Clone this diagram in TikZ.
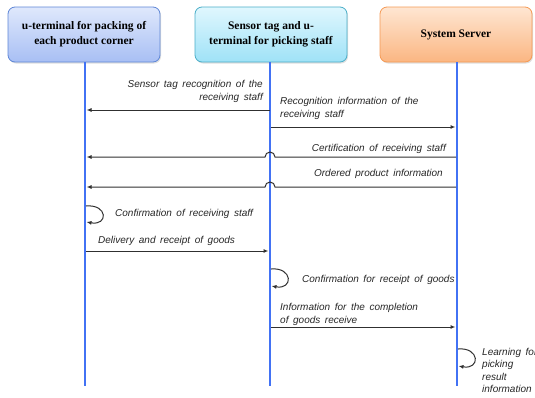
\documentclass[tikz,border=0pt]{standalone}
\usepackage{fontspec}
\setmainfont{Liberation Serif}
\setsansfont{Liberation Sans}
\usetikzlibrary{arrows.meta,shadows}

\definecolor{lifeblue}{HTML}{4272F4}
\definecolor{msggray}{HTML}{303030}
\definecolor{boxAtop}{HTML}{DFE8FC}
\definecolor{boxAbot}{HTML}{A8BFF4}
\definecolor{boxAline}{HTML}{5E86D6}
\definecolor{boxBtop}{HTML}{E0F7FE}
\definecolor{boxBbot}{HTML}{9FE2F7}
\definecolor{boxBline}{HTML}{4AAEC8}
\definecolor{boxCtop}{HTML}{FEE6D2}
\definecolor{boxCbot}{HTML}{FBB682}
\definecolor{boxCline}{HTML}{F59A55}

% italic label font with wide word spacing
\newcommand{\msglabelfont}{\fontsize{10}{12.5}\selectfont\sffamily\itshape
  \setlength{\spaceskip}{4.6pt plus 1pt}}

\tikzset{
  header/.style={rounded corners=7pt, minimum width=152pt, minimum height=55pt,
    align=center, font=\fontsize{11.5}{15}\selectfont\bfseries, line width=0.8pt,
    drop shadow={shadow xshift=1pt, shadow yshift=-1.5pt, opacity=0.25}},
  lifeline/.style={draw=lifeblue, line width=2.4pt},
  msg/.style={draw=msggray, line width=1pt, -{Latex[length=5pt,width=4pt]}},
  lbl/.style={font=\msglabelfont, inner sep=0pt, text=black!85}
}

\begin{document}
\begin{tikzpicture}[x=1pt, y=-1pt]
  \useasboundingbox (0,0) rectangle (535,397);

  % participants
  \node[header, draw=boxAline, top color=boxAtop, bottom color=boxAbot] (h1) at (84,34.5)
    {u-terminal for packing of\\each product corner};
  \node[header, draw=boxBline, top color=boxBtop, bottom color=boxBbot] (h2) at (271,34.5)
    {Sensor tag and u-\\terminal for picking staff};
  \node[header, draw=boxCline, top color=boxCtop, bottom color=boxCbot] (h3) at (456,34.5)
    {System Server};

  % lifeline ends
  \coordinate (e1) at (85,386);
  \coordinate (e2) at (270,386);
  \coordinate (e3) at (457,386);
  \draw[lifeline] (h1.south -| e1) -- (e1);
  \draw[lifeline] (h2.south -| e2) -- (e2);
  \draw[lifeline] (h3.south -| e3) -- (e3);

  % message anchor points on the lifelines
  \coordinate (m1a) at (270,110); \coordinate (m1b) at (86.5,110);
  \coordinate (m2a) at (271,127); \coordinate (m2b) at (455.5,127);
  \coordinate (m3a) at (456,157); \coordinate (m3b) at (86.5,157);
  \coordinate (m4a) at (456,187); \coordinate (m4b) at (86.5,187);
  \coordinate (s1a) at (86,206);  \coordinate (s1b) at (86.5,222);
  \coordinate (m6a) at (86,251);  \coordinate (m6b) at (268.5,251);
  \coordinate (s2a) at (271,269); \coordinate (s2b) at (271.5,286);
  \coordinate (m8a) at (271,327); \coordinate (m8b) at (455.5,327);
  \coordinate (s3a) at (458,349); \coordinate (s3b) at (458.5,366);
  \coordinate (j3) at (275,157);
  \coordinate (j4) at (275,187);

  % messages
  \draw[msg] (m1a) -- (m1b);
  \draw[msg] (m2a) -- (m2b);
  \draw[msg] (m3a) -- (j3) arc[start angle=0, end angle=-180, radius=5] -- (m3b);
  \draw[msg] (m4a) -- (j4) arc[start angle=0, end angle=-180, radius=5] -- (m4b);
  \draw[msg] (s1a) .. controls +(22,-2) and +(22,4) .. (s1b);
  \draw[msg] (m6a) -- (m6b);
  \draw[msg] (s2a) .. controls +(22,-2) and +(22,4) .. (s2b);
  \draw[msg] (m8a) -- (m8b);
  \draw[msg] (s3a) .. controls +(22,-2) and +(22,4) .. (s3b);

  % message labels
  \node[lbl, anchor=east, align=right] (l1) at (263,91.5)
    {Sensor tag recognition of the\\receiving staff};
  \node[lbl, anchor=west, align=left] (l2) at (280,108.5)
    {Recognition information of the\\receiving staff};
  \node[lbl, anchor=east] (l3) at (446,149) {Certification of receiving staff};
  \node[lbl, anchor=east] (l4) at (443,174) {Ordered product information};
  \node[lbl, anchor=west] (l5) at (115,214) {Confirmation of receiving staff};
  \node[lbl, anchor=west] (l6) at (98,241) {Delivery and receipt of goods};
  \node[lbl, anchor=west] (l7) at (302,280) {Confirmation for receipt of goods};
  \node[lbl, anchor=west, align=left] (l8) at (280,314.5)
    {Information for the completion\\of goods receive};
  \node[lbl, anchor=west, align=left] (l9) at (482,370.5)
    {Learning for\\picking\\result\\information};
\end{tikzpicture}
\end{document}
